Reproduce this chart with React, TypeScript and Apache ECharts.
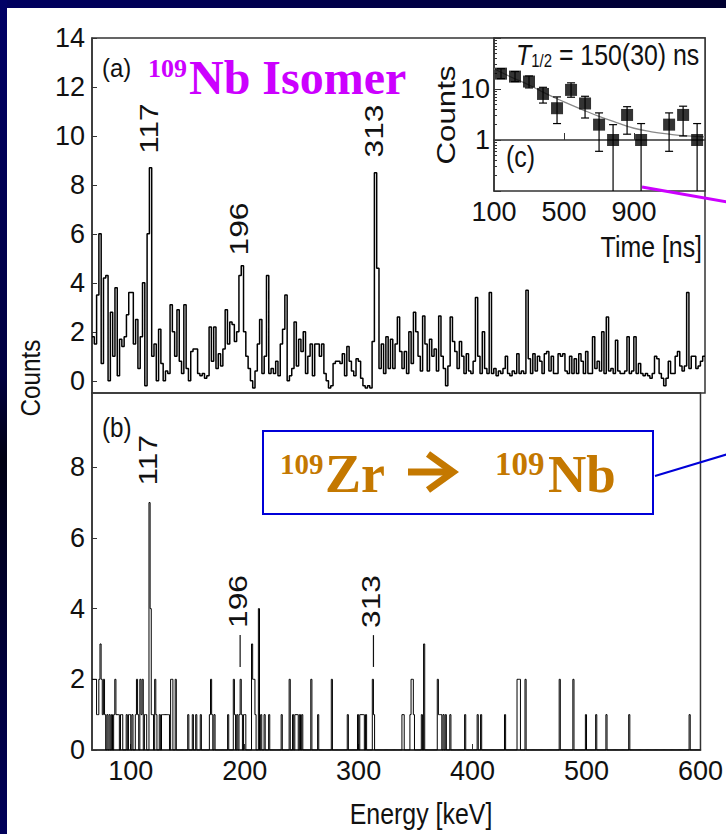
import React, { useEffect, useRef } from "react";
import * as echarts from "echarts";

// ---------- DATA ----------
// Panel (a): 109Nb isomer-gated spectrum, 2 keV bins starting at 66 keV
const energyStartA = 66;
const binWidthA = 2;
const countsA = [
  1.8, 1.5, 3.5, 6.0, 0.7, 4.2, 4.3, 0.0, 2.8, 1.0,
  3.8, 0.2, 1.7, 1.4, 1.8, 2.7, 3.6, 3.6, 1.5, 2.5,
  0.5, 1.8, 4.0, -0.2, 6.0, 8.7, 1.0, 1.5, 0.0, 2.1,
  0.7, 0.0, 0.4, 0.3, 3.1, 2.0, 1.0, 2.9, 0.8, 0.3,
  3.1, 0.5, 0.0, 1.2, 1.3, 1.3, 0.3, 0.2, 0.3, 0.1,
  0.2, 2.2, 0.8, 2.2, 0.5, 1.1, 0.6, 1.3, 2.9, 1.5,
  2.4, 2.3, 1.6, 2.0, 4.3, 4.7, 2.0, 1.0, 0.5, 0.0,
  -0.3, 0.4, 1.5, 2.5, 0.3, 1.0, 4.3, 0.3, 0.5, 0.3,
  0.8, 0.2, 1.5, 2.1, 3.5, 0.0, 0.2, 0.5, 2.4, 0.6,
  1.7, 1.2, 2.0, 0.3, 1.0, 1.5, 0.2, 1.5, 1.5, 1.0,
  1.5, 0.3, 0.0, -0.3, -0.2, 0.7, 0.8, 0.8, 0.7, 1.1,
  0.2, 1.4, 0.8, 0.4, 0.2, 0.9, 0.8, 0.1, -0.2, -0.3,
  -0.2, -0.3, 1.6, 8.5, 4.6, 0.5, 1.5, 0.3, 1.8, 0.5,
  1.7, 0.5, 1.5, 2.6, 1.2, 0.5, 1.2, 0.3, 2.0, 0.7,
  2.8, 2.0, 1.0, 0.4, 2.65, 1.5, 0.4, 1.7, 1.0, 1.3,
  0.4, 2.65, 1.0, 0.5, -0.2, 0.6, 2.6, 1.6, 1.2, 0.5,
  1.6, 1.0, 0.3, 1.1, 0.4, 0.3, 0.8, 3.4, 1.0, 0.3,
  2.0, 0.5, 0.3, 3.6, 0.3, 0.5, 0.2, 0.4, 0.3, 0.5,
  1.0, 0.3, 0.2, 0.4, 0.3, 1.1, 0.3, 0.4, 0.3, 3.7,
  0.9, 0.3, 1.1, 0.4, 1.0, 0.8, 0.3, 1.1, 1.2, 0.4,
  1.0, 0.3, 0.3, 1.1, 1.0, 1.1, 0.4, 0.3, 1.0, 0.3,
  0.9, 0.3, 1.1, 0.8, 0.3, 1.2, 0.3, 0.3, 1.8, 0.5,
  0.8, 0.4, 2.0, 0.3, 2.6, 0.4, 0.5, 0.3, 1.65, 0.4,
  0.3, 0.3, 0.4, 1.8, 0.3, 0.4, 1.8, 0.3, 0.7, 0.3,
  0.2, 0.3, 0.2, 0.1, 0.3, 1.0, 0.9, 0.3, 0.1, -0.2,
  0.1, 0.8, 0.3, 0.3, 1.0, 1.2, 0.6, 0.4, 0.6, 3.6,
  0.5, 1.0, 1.0, 0.5, 0.6, 0.8, 1.0,
];

// Panel (b): 109Zr beta-decay spectrum, 1 keV bins; [energy, counts] of non-empty bins
const eventsB: [number, number][] = [
  [66, 2], [67, 2], [68, 2], [69, 2], [70, 1], [71, 1], [72, 2], [73, 3], [74, 2], [75, 1],
  [76, 2], [77, 1], [79, 1], [81, 1], [83, 1], [85, 1], [86, 2], [87, 1], [88, 1], [89, 1],
  [91, 1], [92, 1], [96, 1], [98, 1], [99, 1], [101, 1], [104, 1], [105, 2], [106, 1], [108, 2],
  [109, 1], [110, 2], [112, 1], [113, 1], [116, 7], [117, 4], [118, 1], [119, 1], [121, 2], [122, 1],
  [125, 1], [127, 1], [128, 1], [129, 1], [130, 1], [131, 1], [132, 1], [133, 1], [135, 2], [136, 2],
  [139, 2], [150, 1], [154, 1], [157, 1], [161, 1], [169, 1], [170, 2], [171, 1], [173, 1], [185, 1],
  [190, 2], [191, 1], [193, 1], [195, 1], [196, 2], [197, 1], [199, 1], [200, 1], [206, 3], [207, 2],
  [208, 2], [209, 1], [212, 4], [214, 1], [217, 1], [221, 1], [232, 1], [239, 2], [242, 1], [244, 1],
  [245, 1], [246, 1], [248, 1], [250, 1], [258, 2], [264, 1], [276, 2], [290, 1], [299, 1], [301, 1],
  [302, 1], [303, 1], [304, 1], [306, 1], [312, 2], [313, 1], [338, 1], [339, 1], [345, 1], [346, 2],
  [347, 2], [348, 1], [355, 1], [357, 3], [369, 2], [370, 1], [371, 1], [372, 1], [374, 1], [376, 1],
  [380, 1], [393, 1], [404, 1], [407, 1], [428, 1], [439, 2], [440, 2], [441, 2], [446, 2], [476, 2],
  [488, 2], [499, 1], [508, 1], [517, 1], [537, 1], [590, 1],
];

const energyMin = 66;
const energyMax = 600;
const energyTicks = [100, 200, 300, 400, 500, 600];
const countTicksA = [0, 2, 4, 6, 8, 10, 12, 14];
const countTicksB = [0, 2, 4, 6, 8];

// Peak annotations
const peakEnergies = [117, 196, 313];
const peakLabelYA = [10.3, 6.2, 10.2];
const peakLabelYB = [8.2, 4.2, 4.2];
const peakMarkerB: [number, number, number][] = [[196, 2.35, 3.25], [313, 2.35, 3.25]];

// Inset (c): decay curve
const decayTime = [140, 220, 300, 380, 460, 540, 620, 700, 780, 860, 940, 1100, 1180, 1260];
const decayCounts = [20, 17.5, 14, 8, 4.2, 9.6, 5.2, 2, 1, 3.1, 1, 2, 3.1, 1];
const decayLow = [16, 14, 10.5, 5.3, 2.1, 6.9, 2.7, 0.6, 0, 1.3, 0, 0.6, 1.2, 0];
const decayHigh = [25, 22, 18, 10.8, 7.0, 13.2, 7.2, 3.4, 2.0, 4.5, 2.1, 3.4, 4.6, 2.1];
const fitTime = [100, 200, 300, 400, 500, 600, 700, 800, 900, 1000, 1100, 1200, 1305];
const fitCounts = [25, 17, 12, 8, 5.6, 4.0, 2.9, 2.2, 1.7, 1.45, 1.3, 1.2, 1.15];
const timeTicks = [100, 500, 900];
const timeTickMarks = [500, 900];

// ---------- STYLE ----------
const SANS = "'Liberation Sans', Arial, Helvetica, sans-serif";
const SERIF = "'Liberation Serif', 'Times New Roman', Times, serif";
const INK = "#111";
const FRAME = "#333";
const MAGENTA = "#cc00ff";
const ORANGE = "#c47800";
const BLUE = "#0000d8";
const NARROW_SCALE = 0.83;

function buildHistA(): [number, number][] {
  const d: [number, number][] = countsA.map((v, i) => [energyStartA + i * binWidthA, v]);
  d.push([energyMax, countsA[countsA.length - 1]]);
  return d;
}

function buildHistB(): [number, number][] {
  const m = new Map<number, number>();
  eventsB.forEach(([e, c]) => m.set(e, c));
  const d: [number, number][] = [];
  for (let e = energyMin; e < energyMax; e++) d.push([e, m.get(e) || 0]);
  d.push([energyMax, 0]);
  return d;
}

const logMinor: number[] = [];
[0.1, 1, 10].forEach((dec) => {
  for (let k = 2; k <= 9; k++) logMinor.push(dec * k);
});

export default function App() {
  const ref = useRef<HTMLDivElement>(null);

  useEffect(() => {
    const el = ref.current;
    if (!el) return;
    const chart = echarts.init(el, undefined, { renderer: "svg", width: 726, height: 834 });

    const tickLabel = { fontFamily: SANS, fontSize: 27, color: INK };

    const option: any = {
      animation: false,
      backgroundColor: "#ffffff",
      grid: [
        { left: 92, top: 38, width: 613, height: 355, show: true, borderColor: FRAME, borderWidth: 1.5, backgroundColor: "transparent" },
        { left: 92, top: 393, width: 613, height: 357, show: true, borderColor: FRAME, borderWidth: 1.5, backgroundColor: "transparent" },
        { left: 494, top: 38, width: 211, height: 153, show: true, borderColor: FRAME, borderWidth: 1.5, backgroundColor: "#ffffff" },
      ],
      xAxis: [
        {
          gridIndex: 0, type: "value", min: energyMin, max: energyMax,
          axisLine: { show: false }, axisTick: { show: false }, axisLabel: { show: false }, splitLine: { show: false },
        },
        {
          gridIndex: 1, type: "value", min: energyMin, max: energyMax,
          axisLine: { show: true, lineStyle: { color: FRAME, width: 1.5 } },
          axisTick: { show: true, inside: true, length: 6, customValues: energyTicks, lineStyle: { color: FRAME } },
          axisLabel: { ...tickLabel, margin: 7, customValues: energyTicks },
          splitLine: { show: false },
        },
        {
          gridIndex: 2, type: "value", min: 100, max: 1305,
          axisLine: { show: true, lineStyle: { color: FRAME, width: 1.5 } },
          axisTick: { show: true, inside: true, length: 7, customValues: timeTickMarks, lineStyle: { color: FRAME } },
          axisLabel: { ...tickLabel, margin: 7, customValues: timeTicks },
          splitLine: { show: false },
        },
      ],
      yAxis: [
        {
          gridIndex: 0, type: "value", min: -0.5, max: 14,
          axisLine: { show: true, lineStyle: { color: FRAME, width: 1.5 } },
          axisTick: { show: true, inside: true, length: 5, customValues: countTicksA, lineStyle: { color: FRAME } },
          axisLabel: { ...tickLabel, margin: 7, customValues: countTicksA },
          splitLine: { show: false },
        },
        {
          gridIndex: 1, type: "value", min: 0, max: 10.1,
          axisLine: { show: true, lineStyle: { color: FRAME, width: 1.5 } },
          axisTick: { show: true, inside: true, length: 5, customValues: countTicksB, lineStyle: { color: FRAME } },
          axisLabel: { ...tickLabel, margin: 7, customValues: countTicksB },
          splitLine: { show: false },
        },
        {
          gridIndex: 2, type: "log", logBase: 10, min: 0.1, max: 100,
          axisLine: { show: true, lineStyle: { color: FRAME, width: 1.5 } },
          axisTick: { show: true, inside: true, length: 7, lineStyle: { color: FRAME } },
          axisLabel: {
            ...tickLabel, margin: 4,
            formatter: (v: number) => (Math.abs(v - 1) < 1e-9 || Math.abs(v - 10) < 1e-9 ? String(Math.round(v)) : ""),
          },
          splitLine: { show: false },
        },
        {
          gridIndex: 2, type: "value", min: -1, max: 2, position: "left",
          axisLine: { show: false },
          axisTick: { show: true, inside: true, length: 3, customValues: logMinor.map((v) => Math.log10(v)), lineStyle: { color: FRAME } },
          axisLabel: { show: false },
          splitLine: { show: false },
        },
      ],
      series: [
        {
          type: "line", xAxisIndex: 0, yAxisIndex: 0, step: "end", symbol: "none",
          lineStyle: { color: "#000", width: 1.5 }, data: buildHistA(), z: 3,
        },
        {
          type: "line", xAxisIndex: 1, yAxisIndex: 1, step: "end", symbol: "none",
          lineStyle: { color: "#000", width: 1 }, data: buildHistB(), z: 3,
        },
        {
          type: "line", xAxisIndex: 2, yAxisIndex: 2, smooth: true, symbol: "none",
          lineStyle: { color: "#888", width: 1.3 }, data: fitTime.map((t, i) => [t, fitCounts[i]]), z: 4,
        },
        {
          type: "custom", xAxisIndex: 2, yAxisIndex: 2, clip: true, z: 5,
          encode: { x: 0, y: 1 },
          data: decayTime.map((t, i) => [t, decayCounts[i], decayLow[i], decayHigh[i]]),
          renderItem: (_p: any, api: any) => {
            const t = api.value(0);
            const loRaw = api.value(2);
            const lo = Math.max(loRaw, 0.1);
            const hi = api.value(3);
            const pl = api.coord([t, lo]);
            const ph = api.coord([t, hi]);
            const st = { stroke: "#000", lineWidth: 1.2 };
            const ch: any[] = [
              { type: "line", shape: { x1: pl[0], y1: pl[1], x2: ph[0], y2: ph[1] }, style: st },
              { type: "line", shape: { x1: ph[0] - 4, y1: ph[1], x2: ph[0] + 4, y2: ph[1] }, style: st },
            ];
            if (loRaw > 0.1) ch.push({ type: "line", shape: { x1: pl[0] - 4, y1: pl[1], x2: pl[0] + 4, y2: pl[1] }, style: st });
            return { type: "group", children: ch };
          },
        },
        {
          type: "scatter", xAxisIndex: 2, yAxisIndex: 2, symbol: "rect", symbolSize: 12,
          itemStyle: { color: "#000" }, data: decayTime.map((t, i) => [t, decayCounts[i]]), z: 6, clip: false,
        },
      ],
    };

    chart.setOption(option);

    const txt = (x: number, y: number, text: string, o: any = {}, el: any = {}) => ({
      type: "text", x, y, z: 100, ...el,
      style: { text, fill: INK, fontFamily: SANS, fontSize: 26, align: "left", verticalAlign: "middle", ...o },
    });

    const g: any[] = [];
    // dark frame bands
    g.push({
      type: "rect", z: 200, shape: { x: 0, y: 0, width: 726, height: 8 },
      style: { fill: new echarts.graphic.LinearGradient(0, 0, 1, 0, [{ offset: 0, color: "#000060" }, { offset: 1, color: "#000030" }]) },
    });
    g.push({
      type: "rect", z: 200, shape: { x: 0, y: 0, width: 7, height: 834 },
      style: {
        fill: new echarts.graphic.LinearGradient(0, 0, 0, 1, [
          { offset: 0, color: "#000066" }, { offset: 0.45, color: "#000040" }, { offset: 0.55, color: "#000012" }, { offset: 1, color: "#00005a" },
        ]),
      },
    });

    // axis titles
    g.push(txt(31, 378, "Counts", { fontSize: 27, align: "center" }, { rotation: Math.PI / 2, scaleX: 0.9 }));
    g.push(txt(421, 814, "Energy [keV]", { fontSize: 29, align: "center" }, { scaleX: 0.86 }));
    g.push(txt(446, 115, "Counts", { fontSize: 25, align: "center" }, { rotation: Math.PI / 2, scaleX: 1.25 }));
    g.push(txt(702, 247, "Time [ns]", { fontSize: 30, align: "right" }, { scaleX: NARROW_SCALE }));

    // panel tags
    g.push(txt(102, 68, "(a)", { fontSize: 26 }, { scaleX: 0.92 }));
    g.push(txt(102, 428, "(b)", { fontSize: 27 }, { scaleX: 0.9 }));
    g.push(txt(506, 157, "(c)", { fontSize: 30 }, { scaleX: NARROW_SCALE }));
    g.push({
      type: "text", x: 516, y: 55, z: 100, scaleX: NARROW_SCALE,
      style: {
        text: "{i|T}{s|1/2}{n| = 150(30) ns}", fill: INK, align: "left", verticalAlign: "middle",
        rich: {
          i: { fontFamily: SANS, fontSize: 30, fontStyle: "italic", verticalAlign: "bottom" },
          s: { fontFamily: SANS, fontSize: 18, verticalAlign: "bottom" },
          n: { fontFamily: SANS, fontSize: 30, verticalAlign: "bottom" },
        },
      },
    });

    // peak labels
    peakEnergies.forEach((e, i) => {
      const pa = chart.convertToPixel({ gridIndex: 0 } as any, [e, peakLabelYA[i]]) as number[];
      g.push(txt(pa[0] - 2, pa[1], String(e), { fontSize: 26, align: "center" }, { rotation: Math.PI / 2, scaleX: 1.22 }));
      const pb = chart.convertToPixel({ gridIndex: 1 } as any, [e, peakLabelYB[i]]) as number[];
      g.push(txt(pb[0] - 2, pb[1], String(e), { fontSize: 26, align: "center" }, { rotation: Math.PI / 2, scaleX: 1.22 }));
    });
    peakMarkerB.forEach(([e, y0, y1]) => {
      const p0 = chart.convertToPixel({ gridIndex: 1 } as any, [e, y0]) as number[];
      const p1 = chart.convertToPixel({ gridIndex: 1 } as any, [e, y1]) as number[];
      g.push({ type: "line", z: 100, shape: { x1: p0[0], y1: p0[1], x2: p1[0], y2: p1[1] }, style: { stroke: INK, lineWidth: 1.2 } });
    });

    // magenta title + pointer
    g.push(txt(148, 68, "109", { fontFamily: SERIF, fontWeight: "bold", fontSize: 26, fill: MAGENTA }));
    g.push(txt(189, 77, "Nb Isomer", { fontFamily: SERIF, fontWeight: "bold", fontSize: 48, fill: MAGENTA }));
    g.push({ type: "line", z: 150, shape: { x1: 642, y1: 187, x2: 728, y2: 202 }, style: { stroke: MAGENTA, lineWidth: 3 } });

    // decay box
    g.push({ type: "rect", z: 150, shape: { x: 263, y: 431, width: 390, height: 83 }, style: { fill: "#ffffff", stroke: BLUE, lineWidth: 2 } });
    g.push({ type: "line", z: 150, shape: { x1: 655, y1: 476, x2: 728, y2: 454 }, style: { stroke: BLUE, lineWidth: 2 } });
    g.push(txt(280, 464, "109", { fontFamily: SERIF, fontWeight: "bold", fontSize: 29, fill: ORANGE }, { z: 160 }));
    g.push(txt(325, 474, "Zr", { fontFamily: SERIF, fontWeight: "bold", fontSize: 54, fill: ORANGE }, { z: 160 }));
    g.push({ type: "line", z: 160, shape: { x1: 408, y1: 472, x2: 450, y2: 472 }, style: { stroke: ORANGE, lineWidth: 7 } });
    g.push({
      type: "polyline", z: 160, shape: { points: [[428, 454], [453, 472], [428, 490]] },
      style: { stroke: ORANGE, lineWidth: 7, fill: "none", lineJoin: "miter" },
    });
    g.push(txt(495, 464, "109", { fontFamily: SERIF, fontWeight: "bold", fontSize: 33, fill: ORANGE }, { z: 160 }));
    g.push(txt(548, 474, "Nb", { fontFamily: SERIF, fontWeight: "bold", fontSize: 53, fill: ORANGE }, { z: 160 }));

    chart.setOption({ graphic: { elements: g } });

    return () => chart.dispose();
  }, []);

  return <div ref={ref} style={{ position: "fixed", left: 0, top: 0, width: 726, height: 834 }} />;
}
